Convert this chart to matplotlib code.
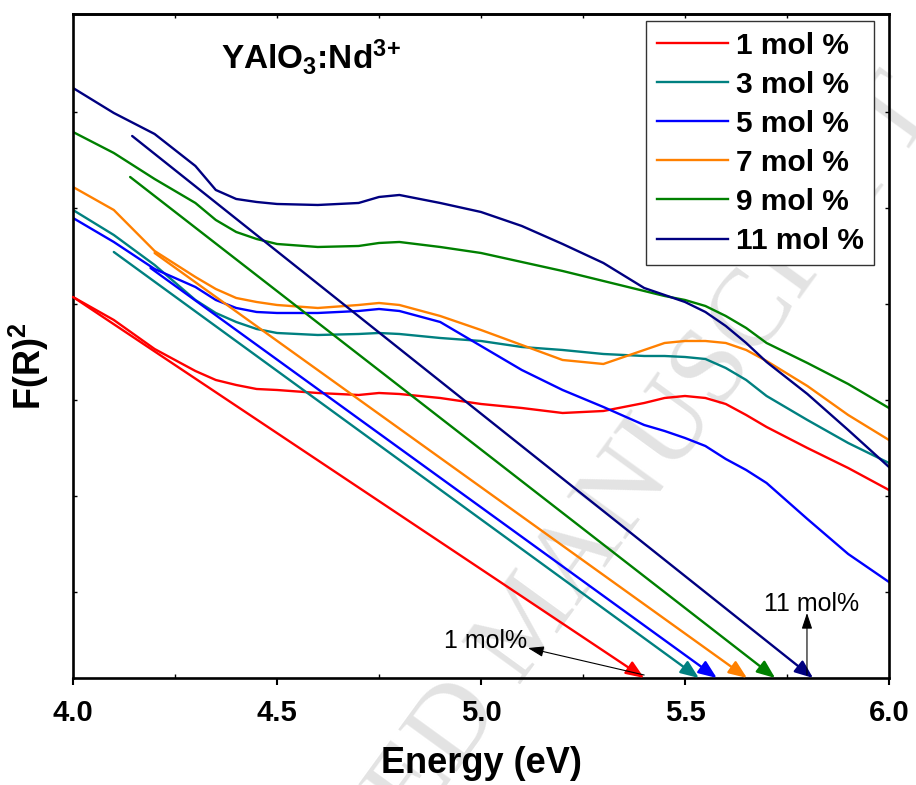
import matplotlib
matplotlib.use('Agg')
import matplotlib.pyplot as plt
from matplotlib.ticker import MultipleLocator

plt.rcParams['font.family'] = ['Liberation Sans', 'DejaVu Sans']
plt.rcParams['font.weight'] = 'bold'
plt.rcParams['mathtext.fontset'] = 'custom'
plt.rcParams['mathtext.rm'] = 'Liberation Sans:bold'
plt.rcParams['mathtext.it'] = 'Liberation Sans:bold'
plt.rcParams['mathtext.bf'] = 'Liberation Sans:bold'

# energy grid (eV) and F(R)^2 in arbitrary units
energy = [4.0, 4.1, 4.2, 4.3, 4.35, 4.4, 4.45, 4.5, 4.6, 4.7, 4.75, 4.8,
          4.9, 5.0, 5.1, 5.2, 5.3, 5.4, 5.45, 5.5, 5.55, 5.6, 5.65, 5.7,
          5.8, 5.9, 6.0]
f_1 = [381, 358, 329, 307, 298, 293, 289, 288, 285, 283, 285, 284,
       280, 274, 270, 265, 267, 275, 280, 282, 280, 274, 263, 251,
       230, 210, 188]
f_3 = [468, 443, 413, 378, 365, 356, 349, 345, 343, 344, 345, 344,
       340, 337, 331, 328, 324, 322, 322, 321, 319, 310, 298, 282,
       258, 235, 215]
f_5 = [460, 436, 409, 391, 378, 370, 366, 365, 365, 367, 369, 367,
       356, 332, 308, 288, 271, 253, 247, 240, 232, 219, 208, 195,
       159, 124, 96]
f_7 = [491, 468, 427, 401, 389, 380, 376, 373, 370, 373, 375, 373,
       362, 348, 333, 318, 314, 328, 335, 337, 337, 335, 328, 317,
       292, 263, 238]
f_9 = [546, 525, 499, 475, 458, 446, 439, 434, 431, 432, 435, 436,
       431, 425, 416, 407, 397, 387, 382, 378, 372, 362, 350, 335,
       315, 294, 270]
f_11 = [590, 565, 544, 512, 488, 479, 476, 474, 473, 475, 481, 483,
        475, 466, 452, 434, 415, 390, 383, 376, 366, 352, 335, 316,
        284, 248, 211]
series = [f_1, f_3, f_5, f_7, f_9, f_11]

labels = ['1 mol %', '3 mol %', '5 mol %', '7 mol %', '9 mol %', '11 mol %']
colors = ['#FF0000', '#008080', '#0000FF', '#FF8000', '#008000', '#000080']

# linear extrapolations: start point and band-gap intercept (eV)
tan_x0 = [4.0, 4.10, 4.19, 4.20, 4.14, 4.145]
tan_y0 = [381, 426, 410, 425, 501, 542]
gap = [5.40, 5.534, 5.578, 5.652, 5.721, 5.814]

yticks = [86, 182, 278, 374, 470, 566]

fig = plt.figure(figsize=(9.16, 7.85), dpi=100)
ax = fig.add_axes([0.0797, 0.1363, 0.8908, 0.8459])
ax.patch.set_visible(False)

fig.text(0.58, 0.205, 'ACCEPTED MANUSCRIPT', family='Liberation Serif',
         weight='normal', fontsize=80, color='#E3E3E3', rotation=54,
         ha='center', va='center', rotation_mode='anchor', zorder=-1)

for y, c, lab in zip(series, colors, labels):
    ax.plot(energy, y, color=c, lw=1.7, label=lab)

for x0, y0, g, c in zip(tan_x0, tan_y0, gap, colors):
    ax.annotate('', xy=(g, 0), xytext=(x0, y0),
                arrowprops=dict(arrowstyle='-|>,head_length=0.55,head_width=0.22',
                                color=c, lw=1.7, mutation_scale=20,
                                shrinkA=0, shrinkB=0))

ax.annotate('', xy=(5.115, 30), xytext=(5.40, 3),
            arrowprops=dict(arrowstyle='-|>,head_length=0.6,head_width=0.2',
                            color='black', lw=0.8, mutation_scale=16,
                            shrinkA=0, shrinkB=0))
ax.text(5.012, 37, '1 mol%', fontsize=18, weight='normal',
        ha='center', va='center')
ax.annotate('', xy=(5.799, 65), xytext=(5.799, 3),
            arrowprops=dict(arrowstyle='-|>,head_length=0.6,head_width=0.2',
                            color='black', lw=0.8, mutation_scale=16,
                            shrinkA=0, shrinkB=0))
ax.text(5.81, 74, '11 mol%', fontsize=18, weight='normal',
        ha='center', va='center')

ax.text(4.583, 621, r'YAlO$_3$:Nd$^{3\!+}$', fontsize=24,
        ha='center', va='center')

ax.set_xlim(4.0, 6.0)
ax.set_ylim(0, 664)
ax.xaxis.set_major_locator(MultipleLocator(0.5))
ax.xaxis.set_minor_locator(MultipleLocator(0.25))
ax.set_yticks(yticks)
ax.set_yticklabels([])
ax.tick_params(axis='x', which='major', direction='out', length=5, width=1.5,
               labelsize=21, pad=10)
ax.tick_params(axis='x', which='minor', direction='in', length=3, width=1)
ax.tick_params(axis='y', direction='in', length=3, width=1, right=True)
top = ax.secondary_xaxis('top')
top.xaxis.set_major_locator(MultipleLocator(0.5))
top.xaxis.set_minor_locator(MultipleLocator(0.25))
top.tick_params(which='both', direction='in', length=3, width=1,
                labeltop=False)
top.spines['top'].set_linewidth(1.9)

for s in ax.spines.values():
    s.set_linewidth(1.9)

ax.set_xlabel('Energy (eV)', fontsize=26, fontweight='bold', labelpad=14)
ax.set_ylabel('F(R)$^2$', fontsize=26, fontweight='bold')
ax.yaxis.set_label_coords(-0.027, 0.47)

leg = ax.legend(loc='upper right', bbox_to_anchor=(0.982, 0.989),
                borderaxespad=0, prop={'weight': 'bold', 'size': 21.5},
                fancybox=False, edgecolor='#333333', framealpha=1,
                handlelength=2.4, handletextpad=0.25, labelspacing=0.37,
                borderpad=0.35)
leg.get_frame().set_linewidth(1.0)

fig.savefig('out.png', dpi=100)
